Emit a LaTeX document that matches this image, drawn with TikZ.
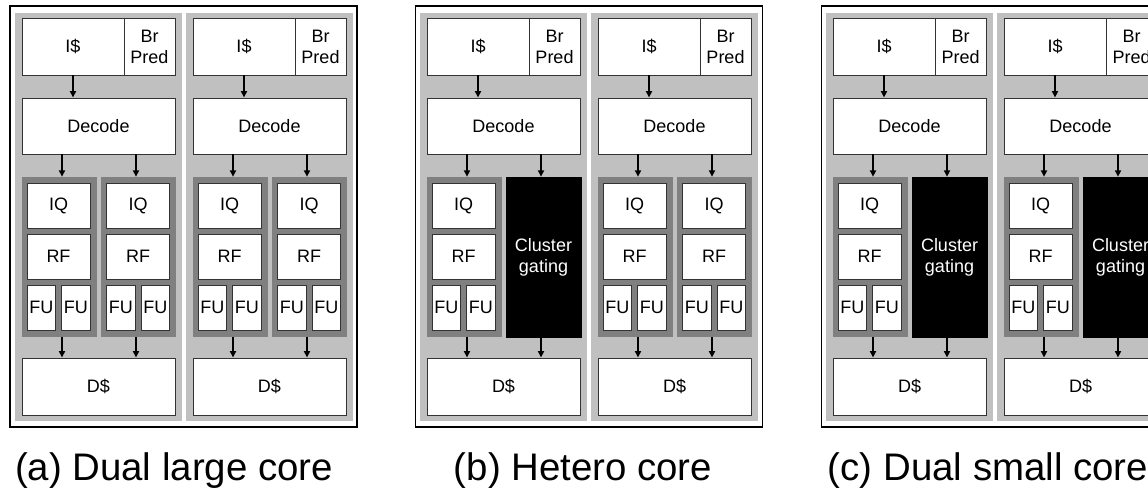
\documentclass[tikz,border=0pt]{standalone}
\usepackage{fontspec}
\setmainfont{Liberation Sans}
\usetikzlibrary{arrows.meta,calc}
\definecolor{coregray}{HTML}{C0C0C0}
\definecolor{clugray}{HTML}{808080}
\tikzset{
  unit/.style={draw=black!80, line width=0.9pt, fill=white, inner sep=0pt,
    font=\fontsize{18}{21}\selectfont, align=center},
  gated/.style={draw=black, fill=black, text=white, inner sep=0pt,
    font=\fontsize{18}{21}\selectfont, align=center},
  cluster/.style={draw=none, fill=clugray, inner sep=0pt},
  arr/.style={line width=1.8pt, -{Triangle[length=6.5pt,width=6pt]}},
  panel/.style={draw=black, line width=1.5pt, fill=white},
  caption/.style={font=\fontsize{38.4}{40}\selectfont, anchor=base, inner sep=0pt}
}
% \ubox{name}{x1}{y1}{x2}{y2}{style}{text}
\newcommand\ubox[7]{%
  \node[#6, minimum width={(#4)-(#2)}, minimum height={(#5)-(#3)}] (#1)
    at ({((#2)+(#4))/2},{((#3)+(#5))/2}) {#7};}
% \clu{x}{prefix}
\newcommand\clu[2]{%
  \ubox{#2}{#1}{177}{#1+75}{337}{cluster}{}
  \ubox{#2iq}{#1+5.5}{183}{#1+68.5}{228}{unit}{IQ}
  \ubox{#2rf}{#1+5.5}{234}{#1+68.5}{279}{unit}{RF}
  \ubox{#2fa}{#1+5.5}{285}{#1+34}{330}{unit}{FU}
  \ubox{#2fb}{#1+40}{285}{#1+68.5}{330}{unit}{FU}}
% \corecell{offset}{prefix}{gated 0/1}
\newcommand\corecell[3]{%
  \fill[coregray] (#1+15,13) rectangle (#1+182,421);
  \ubox{#2is}{#1+22}{18}{#1+124}{75}{unit}{I\$}
  \ubox{#2bp}{#1+124}{18}{#1+175}{75}{unit}{Br\\Pred}
  \ubox{#2dec}{#1+22}{98}{#1+175}{154}{unit}{Decode}
  \ubox{#2dc}{#1+22}{358}{#1+175}{415}{unit}{D\$}
  \clu{#1+21.5}{#2L}
  \ifnum#3=1
    \ubox{#2R}{#1+101}{177}{#1+176}{337}{gated}{Cluster\\gating}
  \else
    \clu{#1+101}{#2R}
  \fi
  \coordinate (#2xl) at (#1+62,0);
  \coordinate (#2xr) at (#1+136,0);
  \draw[arr] (#2is.south) -- (#2is.south |- #2dec.north);
  \draw[arr] (#2dec.south -| #2xl) -- (#2L.north -| #2xl);
  \draw[arr] (#2dec.south -| #2xr) -- (#2R.north -| #2xr);
  \draw[arr] (#2L.south -| #2xl) -- (#2dc.north -| #2xl);
  \draw[arr] (#2R.south -| #2xr) -- (#2dc.north -| #2xr);
}
\begin{document}
\begin{tikzpicture}[x=1pt,y=-1pt]
\useasboundingbox (0,0) rectangle (1148,491);
\clip (0,0) rectangle (1148,491);
\fill[white] (0,0) rectangle (1148,491);
% panel frames
\node[panel, minimum width=347pt, minimum height=421pt, inner sep=0pt] (pa) at (183.5,216.5) {};
\node[panel, minimum width=347pt, minimum height=421pt, inner sep=0pt] (pb) at (589,216.5) {};
\node[panel, minimum width=347pt, minimum height=421pt, inner sep=0pt] (pc) at (995,216.5) {};
% cores
\corecell{0}{aa}{0}
\corecell{171}{ab}{0}
\corecell{405}{ba}{1}
\corecell{576}{bb}{0}
\corecell{811}{ca}{1}
\corecell{982}{cb}{1}
% captions
\node[caption] (capa) at (174,480) {(a) Dual large core};
\node[caption] (capb) at (583,480) {(b) Hetero core};
\node[caption] (capc) at (988,480) {(c) Dual small core};
\end{tikzpicture}
\end{document}
